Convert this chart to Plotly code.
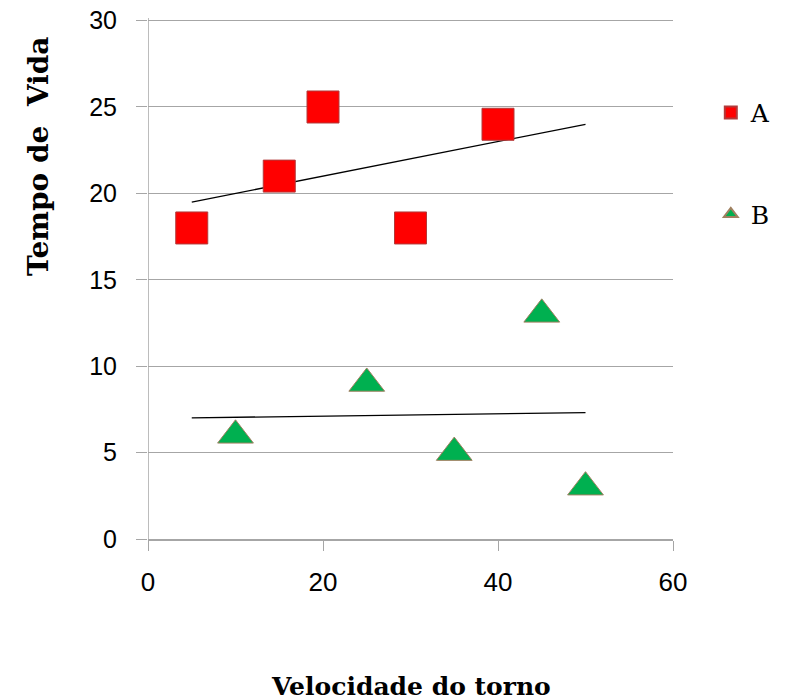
import numpy as np
import plotly.graph_objects as go

# Data
a_x = [5, 15, 20, 30, 40]
a_y = [18, 21, 25, 18, 24]
b_x = [10, 25, 35, 45, 50]
b_y = [6, 9, 5, 13, 3]
trend_x = [5, 50]

x_ticks = [0, 20, 40, 60]
y_ticks = [0, 5, 10, 15, 20, 25, 30]

x_title = "Velocidade do torno"
y_title = "Tempo de  Vida"

def trend(xs, ys, xr):
    m, c = np.polyfit(xs, ys, 1)
    return [m * v + c for v in xr]

slab = "Rockwell, 'DejaVu Serif', serif"
sans = "Arial, 'Liberation Sans', sans-serif"

fig = go.Figure()
fig.add_trace(go.Scatter(x=trend_x, y=trend(a_x, a_y, trend_x), mode="lines",
                         line=dict(color="black", width=1.3), showlegend=False, hoverinfo="skip"))
fig.add_trace(go.Scatter(x=trend_x, y=trend(b_x, b_y, trend_x), mode="lines",
                         line=dict(color="black", width=1.3), showlegend=False, hoverinfo="skip"))
fig.add_trace(go.Scatter(x=a_x, y=a_y, mode="markers", name="A", legendgroup="A",
                         marker=dict(symbol="square", size=32, color="#FF0000",
                                     line=dict(color="#B23A3A", width=1))))
fig.add_trace(go.Scatter(x=b_x, y=b_y, mode="markers", name="B", legendgroup="B",
                         marker=dict(symbol="triangle-up", size=31, color="#00B050",
                                     line=dict(color="#A08060", width=1))))

fig.update_layout(
    width=778, height=692,
    margin=dict(l=140, r=113, t=10.4, b=161, autoexpand=False),
    paper_bgcolor="white", plot_bgcolor="white",
    showlegend=True,
    legend=dict(x=1.072, y=0.8625, xanchor="left", yanchor="top",
                font=dict(family=slab, size=25, color="black"),
                tracegroupgap=66, itemsizing="constant", itemwidth=30),
    xaxis=dict(range=[0, 60], tickvals=x_ticks, showgrid=False, zeroline=False,
               showline=True, linecolor="#A6A6A6", linewidth=1.5, automargin=False,
               ticks="outside", ticklen=10, tickcolor="#A6A6A6",
               tickfont=dict(family=sans, size=26, color="black"), ticklabelstandoff=9,
               ticklabeloverflow="allow"),
    yaxis=dict(range=[0, 30.15], tickvals=y_ticks, showgrid=True, gridcolor="#A6A6A6",
               gridwidth=1.3, zeroline=False, automargin=False,
               showline=False,
               ticks="outside", ticklen=11, tickcolor="#A6A6A6",
               tickfont=dict(family=sans, size=25, color="black"), ticklabelstandoff=14,
               ticklabeloverflow="allow"),
    annotations=[
        dict(text="<b>" + x_title + "</b>", xref="paper", yref="paper",
             x=0.5, y=-0.283, xanchor="center", yanchor="middle", showarrow=False,
             font=dict(family=slab, size=25, color="black")),
        dict(text="<b>" + y_title + "</b>", xref="paper", yref="paper",
             x=-0.2095, y=0.735, xanchor="center", yanchor="middle", showarrow=False,
             textangle=-90, font=dict(family=slab, size=28, color="black")),
    ],
)
# vertical axis line along the plot's left edge (x = 0)
fig.add_vline(x=0, line=dict(color="#A6A6A6", width=1.5), layer="below")

fig.write_html("out.html")
